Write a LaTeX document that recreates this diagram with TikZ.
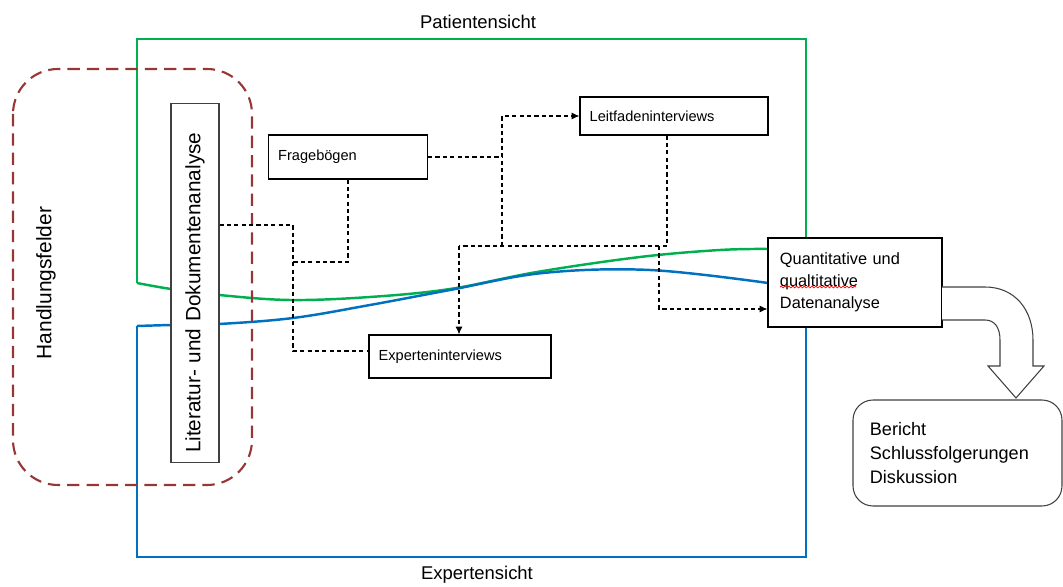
\documentclass[tikz,border=0pt]{standalone}
\usepackage{fontspec}
\setmainfont{Liberation Sans}
\usetikzlibrary{arrows.meta,decorations.pathmorphing}
\definecolor{gruen}{HTML}{00B050}
\definecolor{blau}{HTML}{0070C0}
\definecolor{braun}{HTML}{953735}
\begin{document}
\begin{tikzpicture}
[x=0.02cm, y=-0.02cm,
 kasten/.style={draw=black, fill=white, line width=0.6pt, align=left, inner xsep=5.5pt, inner ysep=0pt, font=\fontsize{8.3}{10}\selectfont},
 rahmen/.style={line width=1.4pt, line join=miter},
 verb/.style={dash pattern=on 2.4pt off 1.8pt, line width=0.6pt},
 titel/.style={font=\fontsize{10.5}{12}\selectfont}]

\useasboundingbox (0,0) rectangle (1063,587);

\draw[rahmen, gruen] (806,238) -- (806,39) -- (137,39) -- (137,283);
\draw[rahmen, gruen] plot[smooth, tension=0.6] coordinates {(137,283) (171,289) (219,295) (290,300) (370,297) (450,289) (537,272) (640,257) (720,250) (768,249)};
\draw[rahmen, blau] (806,327) -- (806,557) -- (137,557) -- (137,326);
\draw[rahmen, blau] plot[smooth, tension=0.6] coordinates {(137,326) (171,325) (219,324) (293,318) (370,305) (450,290) (543,273) (650,270) (768,283)};

\draw[braun, line width=1.2pt, dash pattern=on 7pt off 4pt, rounded corners=0.9cm] (13,69) rectangle (252,485);

\node (patient) at (478,22) [titel] {Patientensicht};
\node (expert) at (477,575) [titel] {Expertensicht};
\node (hand) at (46,283) [rotate=90, font=\fontsize{11.9}{14}\selectfont] {Handlungsfelder};

\node (lit) at (195,283) [kasten, rotate=90, draw=black!75, inner xsep=5.7pt, text width=7.2cm-11.4pt, minimum height=0.96cm, font=\fontsize{11.8}{14}\selectfont] {Literatur- und Dokumentenanalyse};
\node (frage) at (348,157) [kasten, text width=3.18cm-11pt, minimum height=0.88cm] {Fragebögen};
\node (leit) at (674,116) [kasten, text width=3.76cm-11pt, minimum height=0.76cm] {Leitfadeninterviews};
\node (expint) at (460,356.5) [kasten, text width=3.64cm-11pt, minimum height=0.86cm] {Experteninterviews};
\node (quant) at (855,282.5) [kasten, inner xsep=6.8pt, text width=3.48cm-13.6pt, minimum height=1.78cm, font=\fontsize{9.3}{12.5}\selectfont] {Quantitative und\\qualtitative\\Datenanalyse};
\node (bericht) at (957.5,453) [kasten, draw=black!75, rounded corners=0.4cm, inner xsep=9.6pt, text width=4.18cm-19.2pt, minimum height=2.12cm, font=\fontsize{10.3}{13.6}\selectfont] {Bericht\\Schlussfolgerungen\\Diskussion};

\draw[red, line width=0.4pt, decorate, decoration={snake, amplitude=0.5pt, segment length=2.2pt}] (780,287) -- (856,287);

\draw[fill=white, draw=black!75, line width=0.6pt] (942,287) -- (985,287) .. controls (1015,287) and (1033,310) .. (1033,340) -- (1033,366) -- (1044,366) -- (1016,398) -- (988,366) -- (1000,366) -- (1000,340) .. controls (1000,328) and (995,320) .. (985,320) -- (942,320);

\coordinate (a1) at (293,225);
\coordinate (a2) at (293,351);
\coordinate (a3) at (293,262);
\coordinate (b1) at (502,246);
\coordinate (b2) at (459,246);
\coordinate (b3) at (667,246);
\coordinate (b4) at (659,246);
\coordinate (b5) at (659,309);

\draw[verb] (lit.south |- a1) -- (a1) -- (a2) -- (a2 -| expint.west);
\draw[verb] (frage.south) |- (a3);
\draw[verb] (frage.east) -- (frage.east -| b1);
\draw[verb, -{Latex[length=4.5pt, width=4pt]}] (b1) |- (leit.west);
\draw[verb] (leit.south -| b3) -- (b3) -- (b2);
\draw[verb, -{Latex[length=4.5pt, width=4pt]}] (b2) -- (b2 |- expint.north);
\draw[verb, -{Latex[length=4.5pt, width=4pt]}] (b4) -- (b5) -- (b5 -| quant.west);

\end{tikzpicture}
\end{document}
